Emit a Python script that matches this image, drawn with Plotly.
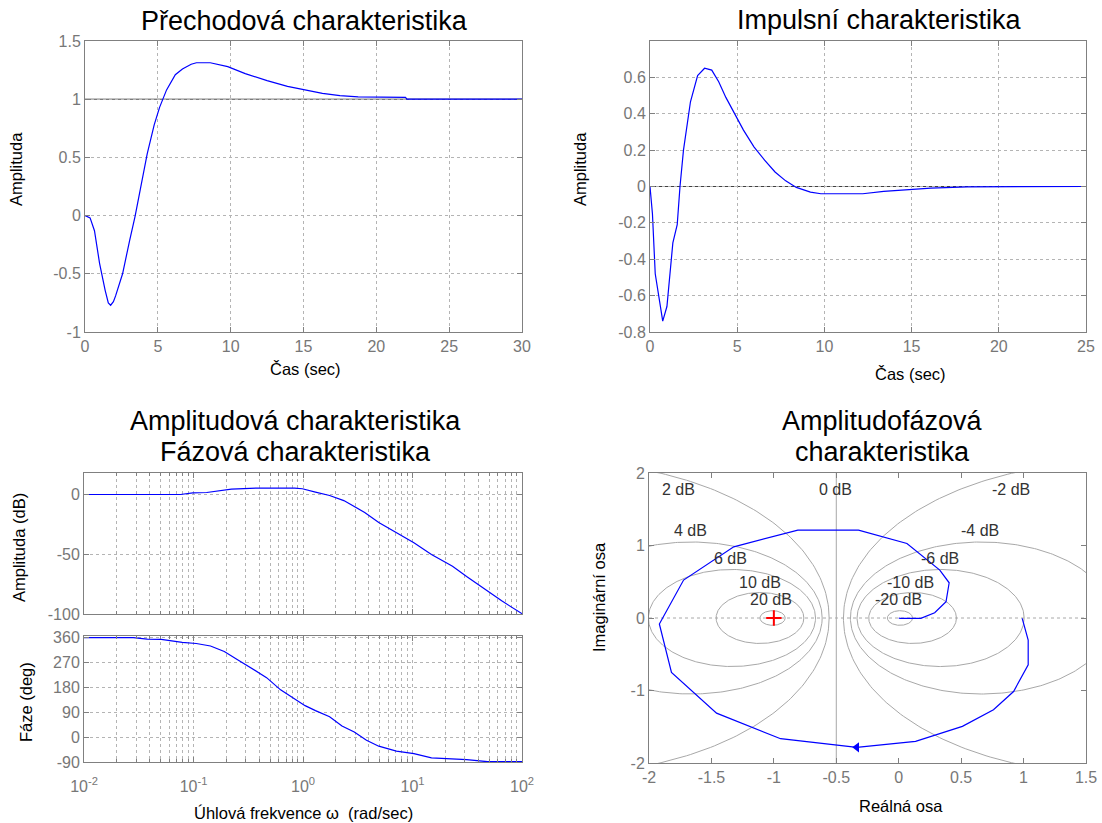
import numpy as np
import plotly.graph_objects as go

W, H = 1102, 823

# ---------------- data ----------------
step_t = [0, 0.35, 0.65, 1.0, 1.38, 1.6, 1.76, 1.95, 2.1, 2.58, 3.07, 3.43, 3.79, 4.27, 4.75,
          5.12, 5.6, 6.2, 6.69, 7.29, 7.65, 8.6, 9.8, 11.0, 12.5, 13.9, 15.1, 16.3, 17.5,
          18.75, 22.0, 22.1, 30]
step_y = [0, -0.02, -0.13, -0.41, -0.64, -0.75, -0.77, -0.74, -0.69, -0.50, -0.21, -0.01, 0.22,
          0.53, 0.78, 0.93, 1.08, 1.21, 1.26, 1.30, 1.313, 1.313, 1.28, 1.22, 1.16, 1.11, 1.08,
          1.05, 1.03, 1.02, 1.015, 1.0, 1.0]

imp_t = [0, 0.14, 0.3, 0.5, 0.73, 0.97, 1.31, 1.56, 1.72, 1.92, 2.32, 2.73, 3.13, 3.54, 3.94,
         4.35, 4.75, 5.36, 5.96, 6.57, 7.17, 7.78, 8.39, 9.2, 9.8, 12.2, 13.4, 14.9, 16.1, 18.2, 25]
imp_y = [0, -0.15, -0.48, -0.59, -0.74, -0.66, -0.31, -0.21, 0.0, 0.2, 0.466, 0.61, 0.65, 0.64,
         0.576, 0.49, 0.42, 0.31, 0.218, 0.145, 0.08, 0.031, -0.005, -0.031, -0.04, -0.04,
         -0.027, -0.017, -0.009, -0.002, 0]

mag_w = [0.01, 0.076, 0.0986, 0.132, 0.222, 0.298, 0.386, 0.838, 0.986, 1.30, 1.75, 2.36, 3.66,
         4.92, 7.13, 10.3, 14.9, 23.2, 31.2, 45.1, 65.2, 100]
mag_db = [0, 0, 1.4, 1.7, 4.5, 4.8, 5.4, 5.4, 4.8, 2.0, -0.8, -5.1, -15, -23.4, -32, -40.4,
          -50.3, -60, -68.6, -78.5, -89, -99.7]

ph_w = [0.01, 0.0281, 0.0378, 0.0507, 0.0789, 0.106, 0.143, 0.191, 0.257, 0.345, 0.465, 0.624,
        0.838, 1.045, 1.30, 1.75, 2.27, 2.94, 3.80, 4.92, 7.13, 10.3, 14.9, 21.5, 31.2, 48.5, 100]
ph_deg = [358, 358, 353, 352, 341, 337, 328, 308, 277, 247, 214, 170, 136, 113, 95, 73, 40, 18,
          -12, -33, -51, -60, -75, -78, -81.5, -89, -89]

nyq_re = [0.989, 1.037, 1.037, 0.920, 0.759, 0.510, 0.135, -0.336, -0.946, -1.459, -1.820,
          -1.917, -1.723, -1.321, -0.808, -0.322, 0.066, 0.329, 0.404, 0.379, 0.288, 0.177,
          0.011, 0.0]
nyq_im = [-0.005, -0.303, -0.647, -1.014, -1.266, -1.495, -1.702, -1.784, -1.665, -1.312,
          -0.752, -0.083, 0.523, 0.982, 1.211, 1.211, 1.028, 0.661, 0.486, 0.225, 0.073,
          -0.005, -0.005, 0.0]

m_circle_db = [20, 10, 6, 4, 2, -2, -4, -6, -10, -20]
m_labels = ["2 dB", "0 dB", "-2 dB", "4 dB", "-4 dB", "6 dB", "-6 dB", "10 dB", "-10 dB",
            "20 dB", "-20 dB"]

# ---------------- helpers ----------------
def px(x):
    return x / W

def py(y):
    return 1 - y / H

FONT = "Liberation Sans, Arial, Helvetica, sans-serif"
BLUE = "#0000ff"
AX = "#808080"
TICKC = "#777777"
GRIDC = "#b4b4b4"

def axis(**kw):
    d = dict(showline=True, linecolor=AX, linewidth=1, mirror="ticks", ticks="inside",
             ticklen=5, tickcolor=AX, tickfont=dict(family=FONT, size=16, color=TICKC),
             zeroline=False, showgrid=True, gridcolor=GRIDC, griddash="dot", gridwidth=1,
             fixedrange=True, automargin=False)
    d.update(kw)
    return d

def lab(v):
    return "%g" % v

fig = go.Figure()

fig.add_trace(go.Scatter(x=step_t, y=step_y, mode="lines", line=dict(color=BLUE, width=1.2),
                         xaxis="x", yaxis="y", showlegend=False))
fig.add_trace(go.Scatter(x=imp_t, y=imp_y, mode="lines", line=dict(color=BLUE, width=1.2),
                         xaxis="x2", yaxis="y2", showlegend=False))
fig.add_trace(go.Scatter(x=mag_w, y=mag_db, mode="lines", line=dict(color=BLUE, width=1.2),
                         xaxis="x3", yaxis="y3", showlegend=False))
fig.add_trace(go.Scatter(x=ph_w, y=ph_deg, mode="lines", line=dict(color=BLUE, width=1.2),
                         xaxis="x4", yaxis="y4", showlegend=False))

# constant-magnitude (M-circle) grid of the Nyquist plot
th = np.linspace(0, 2 * np.pi, 361)
for db in m_circle_db:
    M = 10 ** (db / 20.0)
    c = -M * M / (M * M - 1)
    r = abs(M / (M * M - 1))
    fig.add_trace(go.Scatter(x=c + r * np.cos(th), y=r * np.sin(th), mode="lines",
                             line=dict(color="#a8a8a8", width=1), xaxis="x5", yaxis="y5",
                             showlegend=False, hoverinfo="skip"))
fig.add_trace(go.Scatter(x=[-0.5, -0.5], y=[-2, 2], mode="lines",
                         line=dict(color="#a8a8a8", width=1), xaxis="x5", yaxis="y5",
                         showlegend=False, hoverinfo="skip"))
fig.add_trace(go.Scatter(x=[-2, 1.5], y=[0, 0], mode="lines",
                         line=dict(color="#a8a8a8", width=1, dash="dot"), xaxis="x5", yaxis="y5",
                         showlegend=False, hoverinfo="skip"))
fig.add_trace(go.Scatter(x=nyq_re, y=nyq_im, mode="lines", line=dict(color=BLUE, width=1.2),
                         xaxis="x5", yaxis="y5", showlegend=False))
fig.add_trace(go.Scatter(x=[nyq_re[7]], y=[nyq_im[7]], mode="markers",
                         marker=dict(symbol="triangle-left", size=9, color=BLUE),
                         xaxis="x5", yaxis="y5", showlegend=False))
fig.add_trace(go.Scatter(x=[-1], y=[0], mode="markers",
                         marker=dict(symbol="cross-thin", size=11,
                                     line=dict(color="#ff0000", width=2)),
                         xaxis="x5", yaxis="y5", showlegend=False))

step_ticks = [-1, -0.5, 0, 0.5, 1, 1.5]
imp_ticks = [-0.8, -0.6, -0.4, -0.2, 0, 0.2, 0.4, 0.6]
mag_ticks = [-100, -50, 0]
ph_ticks = [-90, 0, 90, 180, 270, 360]
nx_ticks = [-2, -1.5, -1, -0.5, 0, 0.5, 1, 1.5]
ny_ticks = [-2, -1, 0, 1, 2]
log_major = [0.01, 0.1, 1, 10, 100]
log_major_text = ["10<sup>-2</sup>", "10<sup>-1</sup>", "10<sup>0</sup>", "10<sup>1</sup>",
                  "10<sup>2</sup>"]
log_minor = [k * 10.0 ** e for e in range(-2, 2) for k in range(2, 10)]

minor = dict(tickvals=log_minor, ticks="inside", ticklen=3, tickcolor=AX, showgrid=True,
             gridcolor=GRIDC, griddash="dot", gridwidth=1)

fig.update_layout(
    width=W, height=H, margin=dict(l=0, r=0, t=0, b=0, pad=0), autosize=False,
    paper_bgcolor="white", plot_bgcolor="white", showlegend=False,
    font=dict(family=FONT),
    xaxis=axis(domain=[px(85), px(522)], range=[0, 30], tickvals=[0, 5, 10, 15, 20, 25, 30],
               anchor="y"),
    yaxis=axis(domain=[py(332), py(41)], range=[-1, 1.5], tickvals=step_ticks,
               ticktext=[lab(v) for v in step_ticks], anchor="x"),
    xaxis2=axis(domain=[px(650), px(1086)], range=[0, 25], tickvals=[0, 5, 10, 15, 20, 25],
                anchor="y2"),
    yaxis2=axis(domain=[py(332), py(41)], range=[-0.8, 0.8], tickvals=imp_ticks,
                ticktext=[lab(v) for v in imp_ticks], anchor="x2"),
    xaxis3=axis(domain=[px(84), px(522)], type="log", range=[-2, 2], tickvals=log_major,
                ticktext=log_major_text, showticklabels=False, minor=minor, anchor="y3"),
    yaxis3=axis(domain=[py(614), py(473)], range=[-100, 18], tickvals=mag_ticks,
                ticktext=[lab(v) for v in mag_ticks], anchor="x3"),
    xaxis4=axis(domain=[px(84), px(522)], type="log", range=[-2, 2], tickvals=log_major,
                ticktext=log_major_text, minor=minor, ticklabelstandoff=10, anchor="y4"),
    yaxis4=axis(domain=[py(762), py(636)], range=[-90, 364], tickvals=ph_ticks,
                ticktext=[lab(v) for v in ph_ticks], anchor="x4"),
    xaxis5=axis(domain=[px(649), px(1086)], range=[-2, 1.5], tickvals=nx_ticks,
                ticktext=[lab(v) for v in nx_ticks], showgrid=False, anchor="y5"),
    yaxis5=axis(domain=[py(763), py(473)], range=[-2, 2], tickvals=ny_ticks,
                ticktext=[lab(v) for v in ny_ticks], showgrid=False, anchor="x5"),
)

fig.add_shape(type="line", xref="x", yref="y", x0=0, x1=30, y0=1, y1=1,
              line=dict(color="#404040", width=1), layer="below")
fig.add_shape(type="line", xref="x2", yref="y2", x0=0, x1=25, y0=0, y1=0,
              line=dict(color="#404040", width=1), layer="below")

ann = []
def text(s, x, y, size, color="black", angle=0):
    ann.append(dict(text=s, x=px(x), y=py(y), xref="paper", yref="paper", showarrow=False,
                    xanchor="center", yanchor="middle", textangle=angle,
                    font=dict(family=FONT, size=size, color=color)))

TS = 27
text("Přechodová charakteristika", 304, 21, TS)
text("Impulsní charakteristika", 879, 20, TS)
text("Amplitudová charakteristika", 295, 421, TS)
text("Fázová charakteristika", 295, 452, TS)
text("Amplitudofázová", 882, 421, TS)
text("charakteristika", 882, 452, TS)

LS = 16.5
text("Čas (sec)", 305, 369, LS)
text("Amplituda", 16, 169, LS, angle=-90)
text("Čas (sec)", 910, 374, LS)
text("Amplituda", 580, 169, LS, angle=-90)
text("Amplituda (dB)", 19, 548, LS, angle=-90)
text("Fáze (deg)", 26, 702, LS, angle=-90)
text("Úhlová frekvence ω  (rad/sec)", 303, 813, LS)
text("Reálná osa", 901, 806, LS)
text("Imaginární osa", 599, 597, LS, angle=-90)

m_lab_x = [-1.76, -0.51, 0.90, -1.67, 0.65, -1.35, 0.33, -1.11, 0.094, -1.02, 0.0]
m_lab_y = [1.77, 1.77, 1.77, 1.21, 1.21, 0.82, 0.82, 0.49, 0.49, 0.25, 0.25]
for s, x, y in zip(m_labels, m_lab_x, m_lab_y):
    ann.append(dict(text=s, x=x, y=y, xref="x5", yref="y5", showarrow=False,
                    xanchor="center", yanchor="middle",
                    font=dict(family=FONT, size=16, color="#333333")))

fig.update_layout(annotations=ann)

fig.write_html(
    "out.html",
    config={"displayModeBar": False},
    post_script="document.documentElement.style.margin='0';document.body.style.margin='0';"
                "document.body.style.overflow='hidden';",
)
